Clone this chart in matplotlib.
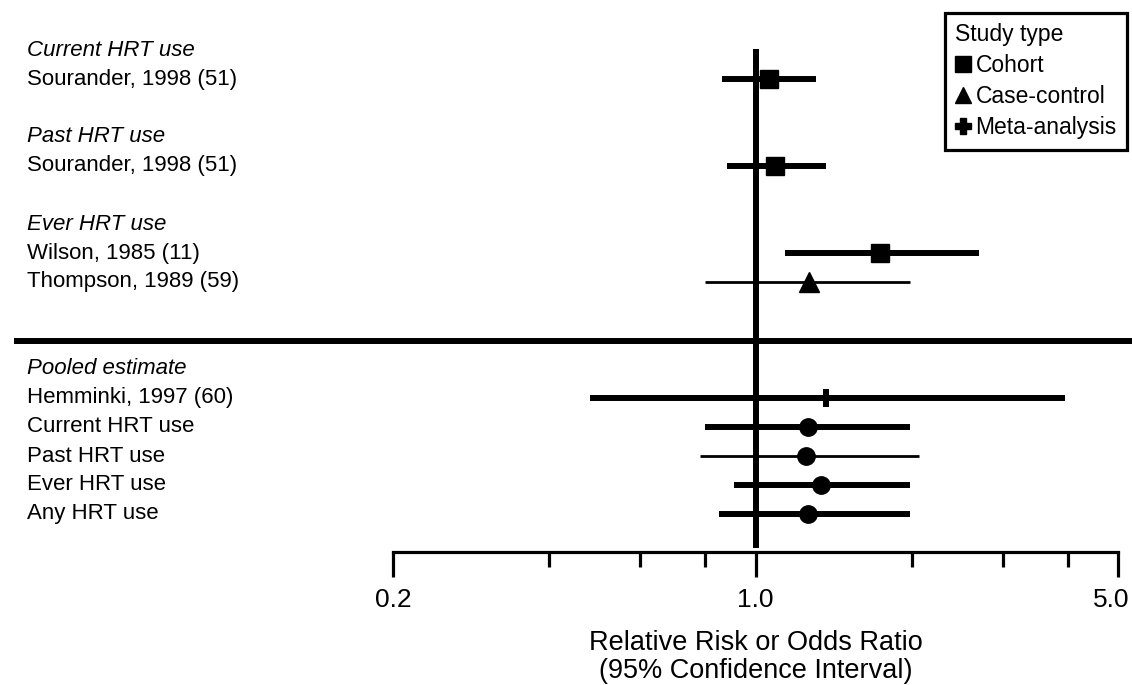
import matplotlib
matplotlib.use("Agg")
import matplotlib.pyplot as plt
from matplotlib.lines import Line2D
from matplotlib.ticker import FixedLocator, FixedFormatter, NullFormatter
import matplotlib.transforms as mtransforms

plt.rcParams['font.family'] = ['Liberation Sans', 'DejaVu Sans']

# ---------------- data ----------------
group_names = ["Current HRT use", "Past HRT use", "Ever HRT use", "Pooled estimate"]
study_labels = ["Sourander, 1998 (51)", "Sourander, 1998 (51)",
                "Wilson, 1985 (11)", "Thompson, 1989 (59)",
                "Hemminki, 1997 (60)", "Current HRT use", "Past HRT use",
                "Ever HRT use", "Any HRT use"]
study_group = [0, 1, 2, 2, 3, 3, 3, 3, 3]
estimate = [1.06, 1.09, 1.74, 1.27, 1.37, 1.26, 1.25, 1.34, 1.26]
ci_low = [0.86, 0.88, 1.14, 0.80, 0.48, 0.80, 0.78, 0.91, 0.85]
ci_high = [1.31, 1.37, 2.70, 1.99, 3.95, 1.99, 2.07, 1.99, 1.99]
study_type = ["Cohort", "Cohort", "Cohort", "Case-control", "Meta-analysis",
              "Pooled", "Pooled", "Pooled", "Pooled"]
major_ticks = [0.2, 1.0, 5.0]
major_tick_labels = ["0.2", "1.0", "5.0"]
minor_ticks = [0.4, 0.6, 0.8, 2, 3, 4]
legend_types = ["Cohort", "Case-control", "Meta-analysis"]

# ---------------- styles ----------------
marker_for = {"Cohort": "s", "Case-control": "^", "Meta-analysis": "|", "Pooled": "o"}
msize_for = {"Cohort": 13, "Case-control": 14, "Meta-analysis": 13, "Pooled": 12.5}
thin_rows = {3, 6}
THICK, THIN = 4.3, 2.0

W, H = 1132, 685
fig = plt.figure(figsize=(W / 100, H / 100), dpi=100)
ax_left, ax_right = 393, 1118
ax_top, ax_bot = 49, 552
ax = fig.add_axes([ax_left / W, 1 - ax_bot / H, (ax_right - ax_left) / W, (ax_bot - ax_top) / H])

row_px = 29.0
y0_px = 50.0
ax.set_xscale("log")
ax.set_xlim(0.2, 5.0)
ax.set_ylim((ax_bot - y0_px) / row_px, (ax_top - y0_px) / row_px)

# ---- layout rows ----
heading_rows = {}
study_rows = []
y = 0
for g, name in enumerate(group_names):
    if g == len(group_names) - 1:
        sep_row = y
        y += 1
    heading_rows[g] = y
    y += 1
    for i, sg in enumerate(study_group):
        if sg == g:
            study_rows.append(y)
            y += 1
    y += 1

trans = ax.get_yaxis_transform()
text_x = (27 - ax_left) / (ax_right - ax_left)
fs = 16

for g, name in enumerate(group_names):
    ax.text(text_x, heading_rows[g], name, transform=trans, style="italic",
            fontsize=fs, va="center", ha="left")

for i, lab in enumerate(study_labels):
    r = study_rows[i]
    ax.text(text_x, r, lab, transform=trans, fontsize=fs, va="center", ha="left")
    lw = THIN if i in thin_rows else THICK
    ax.plot([ci_low[i], ci_high[i]], [r, r], color="black", lw=lw,
            solid_capstyle="butt", zorder=3)
    st = study_type[i]
    if st == "Meta-analysis":
        ax.plot([estimate[i]], [r], marker="|", color="black", markersize=13,
                markeredgewidth=4.3, ls="none", zorder=4)
    else:
        ax.plot([estimate[i]], [r], marker=marker_for[st], color="black",
                markersize=msize_for[st], ls="none", zorder=4)

# reference line at 1.0
ymin_frac = (ax_bot - 545) / (ax_bot - ax_top)
ax.axvline(1.0, ymin=ymin_frac, ymax=1.0, color="black", lw=4.3, zorder=2)

# separator
ax.plot([(14 - ax_left) / (ax_right - ax_left), (W - ax_left) / (ax_right - ax_left)],
        [sep_row + 0.03, sep_row + 0.03], transform=trans, color="black", lw=4.3,
        clip_on=False, solid_capstyle="butt")

# axes
for s in ["left", "top", "right"]:
    ax.spines[s].set_visible(False)
ax.spines["bottom"].set_linewidth(2.3)
ax.yaxis.set_visible(False)
ax.xaxis.set_major_locator(FixedLocator(major_ticks))
ax.xaxis.set_major_formatter(FixedFormatter(major_tick_labels))
ax.xaxis.set_minor_locator(FixedLocator(minor_ticks))
ax.xaxis.set_minor_formatter(NullFormatter())
ax.tick_params(axis="x", which="major", length=18, width=2.3, labelsize=19, pad=8)
ax.tick_params(axis="x", which="minor", length=11, width=2.3)
ax.set_xlabel("Relative Risk or Odds Ratio\n(95% Confidence Interval)", fontsize=19.5,
              labelpad=13, linespacing=1.08)

# keep the last tick label inside the figure
fig.canvas.draw()
last = ax.get_xticklabels()[-1]
last.set_transform(last.get_transform() +
                   mtransforms.ScaledTranslation(-7 / 100, 0, fig.dpi_scale_trans))

# legend
handles = [Line2D([], [], marker=marker_for[t] if t != "Meta-analysis" else "P",
                  color="black", ls="none", markersize=11) for t in legend_types]
leg = ax.legend(handles, legend_types, title="Study type", loc="upper right",
                bbox_to_anchor=(1127 / W, 1 - 13 / H), bbox_transform=fig.transFigure,
                fontsize=16.5, title_fontsize=16.5, frameon=True, fancybox=False,
                edgecolor="black", framealpha=1, handlelength=0.7, handletextpad=0.2,
                borderpad=0.45, labelspacing=0.35, alignment="left", borderaxespad=0)
leg.get_frame().set_linewidth(2.3)

fig.savefig("out.png", dpi=100)
